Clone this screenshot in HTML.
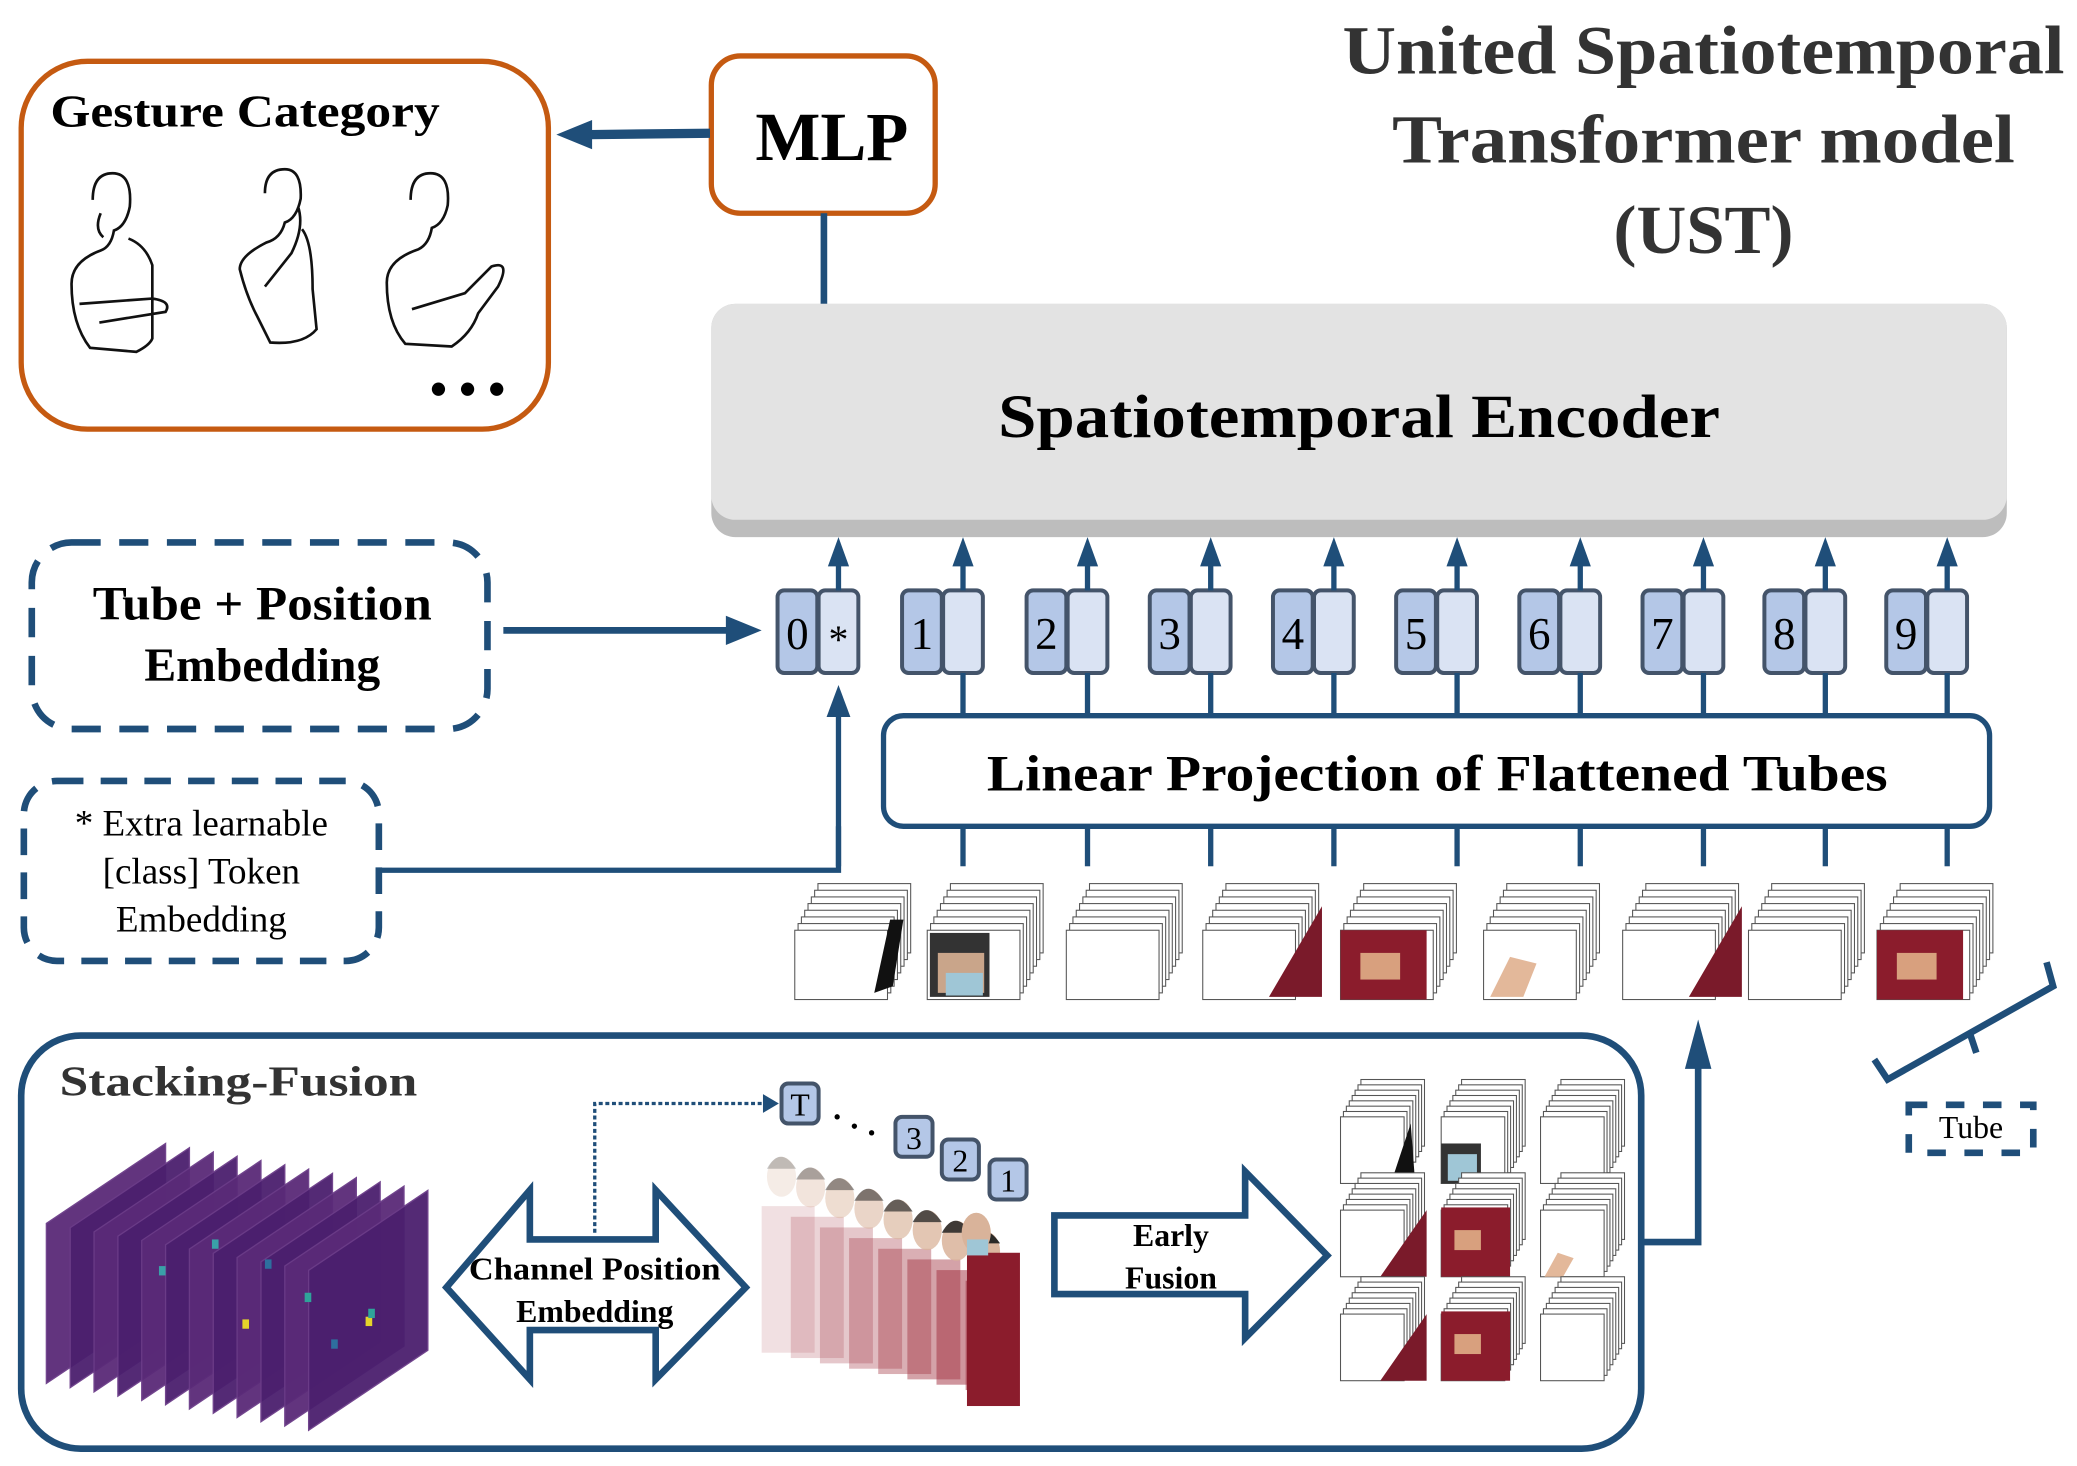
<!DOCTYPE html>
<html><head><meta charset="utf-8"><style>
html,body{margin:0;padding:0;background:#fff;overflow:hidden;}
svg{display:block;}
text{font-family:"Liberation Serif",serif;}
</style></head><body>
<svg id="s" width="2077" height="1466" viewBox="0 0 1568 1100" preserveAspectRatio="none" xmlns="http://www.w3.org/2000/svg">
<!-- Title -->
<g font-weight="bold" fill="#333" font-size="52" text-anchor="middle">
<text x="1286" y="55" textLength="545" lengthAdjust="spacingAndGlyphs">United Spatiotemporal</text>
<text x="1286" y="122" textLength="470" lengthAdjust="spacingAndGlyphs">Transformer model</text>
<text x="1286" y="190">(UST)</text>
</g>
<!-- Gesture box -->
<rect x="16" y="46" width="398" height="276" rx="50" fill="#fff" stroke="#C55A11" stroke-width="4"/>
<text x="38" y="95" font-size="34" font-weight="bold" textLength="294" lengthAdjust="spacingAndGlyphs">Gesture Category</text>
<g fill="none" stroke="#111" stroke-width="2">
<path d="M70,150 q0,-20 15,-20 q15,0 13,25 q-3,15 -12,18 q-2,12 -10,15 q-22,8 -22,25 q0,30 14,48 l35,3 q10,-5 12,-10 l0,-55 q-5,-15 -18,-20 M60,228 l55,-4 q15,2 10,10 l-50,8 M76,160 q-5,12 2,18"/>
<path d="M200,145 q0,-18 15,-18 q13,0 12,22 q-3,15 -12,18 q-3,12 -14,15 q-20,10 -20,20 q5,20 13,35 l10,20 q25,2 35,-10 l-3,-30 q0,-35 -8,-45 M200,215 l20,-25 q10,-20 5,-35"/>
<path d="M310,150 q0,-20 15,-20 q15,0 13,24 q-3,14 -12,17 q-2,12 -10,16 q-24,8 -24,25 q0,30 14,46 l35,2 q15,-10 20,-25 l15,-20 q10,-20 -5,-15 l-20,20 l-40,12"/>
</g>
<circle cx="331" cy="292" r="5" fill="#000"/><circle cx="353" cy="292" r="5" fill="#000"/><circle cx="375" cy="292" r="5" fill="#000"/>
<!-- MLP -->
<rect x="537" y="42" width="169" height="118" rx="22" fill="#fff" stroke="#C55A11" stroke-width="4"/>
<text x="628" y="120" font-size="52" font-weight="bold" text-anchor="middle">MLP</text>
<line x1="536" y1="100" x2="445" y2="101" stroke="#1F4E79" stroke-width="7"/>
<path d="M420,101 L447,90 L447,112 Z" fill="#1F4E79"/>
<line x1="622" y1="160" x2="622" y2="228" stroke="#1F4E79" stroke-width="5"/>
<!-- Encoder -->
<rect x="537" y="228" width="978" height="175" rx="18" fill="#bdbdbd"/>
<rect x="537" y="228" width="978" height="162" rx="18" fill="#e3e3e3"/>
<text x="1026" y="328" font-size="46" font-weight="bold" text-anchor="middle" textLength="545" lengthAdjust="spacingAndGlyphs">Spatiotemporal Encoder</text>
<g id="tokens"></g>
<!-- Tube+Position -->
<rect x="24" y="407" width="344" height="140" rx="30" fill="none" stroke="#1F4E79" stroke-width="5" stroke-dasharray="22,14"/>
<g font-size="36" font-weight="bold" text-anchor="middle"><text x="198" y="465" textLength="256" lengthAdjust="spacingAndGlyphs">Tube + Position</text><text x="198" y="511">Embedding</text></g>
<line x1="380" y1="473" x2="552" y2="473" stroke="#1F4E79" stroke-width="5"/>
<path d="M575,473 L548,462 L548,484 Z" fill="#1F4E79"/>
<!-- Extra -->
<rect x="18" y="586" width="268" height="135" rx="25" fill="none" stroke="#1F4E79" stroke-width="5" stroke-dasharray="20,13"/>
<g font-size="28" text-anchor="middle"><text x="152" y="627">* Extra learnable</text><text x="152" y="663">[class] Token</text><text x="152" y="699">Embedding</text></g>
<path d="M287,653 L633,653 L633,535" fill="none" stroke="#1F4E79" stroke-width="4"/>
<path d="M633,514 L624,538 L642,538 Z" fill="#1F4E79"/>
<!-- Linear projection -->
<rect x="667" y="537" width="835" height="83" rx="15" fill="#fff" stroke="#1F4E79" stroke-width="4"/>
<text x="1085" y="593" font-size="38" font-weight="bold" text-anchor="middle" textLength="680" lengthAdjust="spacingAndGlyphs">Linear Projection of Flattened Tubes</text>
<g id="stacks"></g>
<!-- Tube bracket -->
<path d="M1415,795 L1425,810 L1550,740 L1545,722" fill="none" stroke="#1F4E79" stroke-width="5"/>
<line x1="1487" y1="775" x2="1492" y2="790" stroke="#1F4E79" stroke-width="5"/>
<rect x="1441" y="829" width="94" height="36" fill="none" stroke="#1F4E79" stroke-width="5" stroke-dasharray="14,14"/>
<text x="1488" y="854" font-size="24" text-anchor="middle">Tube</text>
<!-- Stacking fusion -->
<rect x="16" y="777" width="1223" height="310" rx="45" fill="none" stroke="#1F4E79" stroke-width="5"/>
<text x="45" y="822" font-size="32" font-weight="bold" fill="#333" textLength="270" lengthAdjust="spacingAndGlyphs">Stacking-Fusion</text>
<g id="heat"></g>
<!-- double arrow -->
<path d="M337,966 L400,893 L400,930 L495,930 L495,893 L563,966 L495,1035 L495,998 L400,998 L400,1035 Z" fill="#fff" stroke="#1F4E79" stroke-width="5"/>
<g font-size="24" font-weight="bold" text-anchor="middle"><text x="449" y="960" textLength="190" lengthAdjust="spacingAndGlyphs">Channel Position</text><text x="449" y="992">Embedding</text></g>
<path d="M449,925 L449,828 L580,828" fill="none" stroke="#1F4E79" stroke-width="2.5" stroke-dasharray="3,2"/>
<path d="M588,828 L576,821 L576,835 Z" fill="#1F4E79"/>
<g id="people"></g>
<g stroke="#44546a" stroke-width="3">
<rect x="590" y="813" width="28" height="30" rx="5" fill="#b4c7e7"/>
<rect x="676" y="838" width="28" height="30" rx="5" fill="#b4c7e7"/>
<rect x="711" y="855" width="28" height="30" rx="5" fill="#b4c7e7"/>
<rect x="747" y="870" width="28" height="30" rx="5" fill="#b4c7e7"/>
</g>
<g font-size="24" text-anchor="middle"><text x="604" y="837">T</text><text x="690" y="862">3</text><text x="725" y="879">2</text><text x="761" y="894">1</text></g>
<circle cx="632" cy="838" r="2" fill="#000"/><circle cx="645" cy="845" r="2" fill="#000"/><circle cx="658" cy="850" r="2" fill="#000"/>
<!-- early fusion arrow -->
<path d="M796,912 L940,912 L940,879 L1002,942 L940,1004 L940,971 L796,971 Z" fill="#fff" stroke="#1F4E79" stroke-width="5"/>
<g font-size="24" font-weight="bold" text-anchor="middle"><text x="884" y="935">Early</text><text x="884" y="967">Fusion</text></g>
<g id="grid"></g>
<path d="M1240,932 L1282,932 L1282,795" fill="none" stroke="#1F4E79" stroke-width="5"/>
<path d="M1282,765 L1272,802 L1292,802 Z" fill="#1F4E79"/>
</svg>
<script>
var NS="http://www.w3.org/2000/svg";
function el(p,t,a,txt){var e=document.createElementNS(NS,t);for(var k in a)e.setAttribute(k,a[k]);if(txt!==undefined)e.textContent=txt;p.appendChild(e);return e;}
var T=document.getElementById('tokens');
var xs=[587,681,775,868,961,1054,1147,1240,1332,1424];
xs.forEach(function(x,i){
 el(T,'rect',{x:x,y:443,width:30,height:62,rx:5,fill:'#b4c7e7',stroke:'#44546a','stroke-width':3});
 el(T,'rect',{x:x+31,y:443,width:30,height:62,rx:5,fill:'#dae3f3',stroke:'#44546a','stroke-width':3});
 el(T,'text',{x:x+15,y:487,'font-size':34,'text-anchor':'middle'},String(i));
 if(i==0)el(T,'text',{x:x+46,y:490,'font-size':30,'text-anchor':'middle'},'*');
 var cx=x+46;
 el(T,'line',{x1:cx,y1:443,x2:cx,y2:420,stroke:'#1F4E79','stroke-width':4});
 el(T,'path',{d:'M'+cx+',403 L'+(cx-8)+',425 L'+(cx+8)+',425 Z',fill:'#1F4E79'});
 if(i>0){el(T,'line',{x1:cx,y1:505,x2:cx,y2:537,stroke:'#1F4E79','stroke-width':4});}
 el(T,'line',{x1:cx,y1:620,x2:cx,y2:650,stroke:'#1F4E79','stroke-width':4});
});
var S=document.getElementById('stacks');
function stack(g,x,y,w,h,n,dx,dy){
 for(var i=n-1;i>=0;i--){
  el(g,'rect',{x:x+i*dx,y:y-i*dy,width:w,height:h,fill:'#fff',stroke:'#555','stroke-width':0.8});
 }
}
var sx=[600,700,805,908,1012,1120,1225,1320,1417];
var sk=['f1','f','w','m','M','h','m','w','M'];
sx.forEach(function(x,i){
 var g=el(S,'g',{});
 stack(g,x,698,70,52,8,2.5,5);
 var k=sk[i];
 if(k=='f1'){el(g,'path',{d:'M'+(x+60)+',745 l12,-55 l10,0 l-8,50 Z',fill:'#111'});}
 if(k=='f'){el(g,'rect',{x:x+2,y:700,width:45,height:48,fill:'#333'});el(g,'rect',{x:x+8,y:715,width:35,height:30,fill:'#c9a58a'});el(g,'rect',{x:x+14,y:730,width:28,height:17,fill:'#9fc6d6'});}
 if(k=='m'){el(g,'path',{d:'M'+(x+50)+',748 L'+(x+90)+',680 L'+(x+90)+',748 Z',fill:'#7a1a2a'});}
 if(k=='M'){el(g,'rect',{x:x,y:698,width:65,height:52,fill:'#8b1c2c'});el(g,'rect',{x:x+15,y:715,width:30,height:20,fill:'#d8a07e'});}
 if(k=='h'){el(g,'path',{d:'M'+(x+5)+',748 l15,-30 l20,5 l-10,25 Z',fill:'#e3b89a'});}
});
var H=document.getElementById('heat');
for(var i=0;i<12;i++){
 var ox=35+i*18, oy=918+i*3.2;
 el(H,'path',{d:'M'+ox+','+oy+' L'+(ox+90)+','+(oy-60)+' L'+(ox+90)+','+(oy+60)+' L'+ox+','+(oy+120)+' Z',fill:i%2?'#4b1f6e':'#5a2a78',stroke:'#6b3c88','stroke-width':1,opacity:0.95});
}
[[183,990,'#e5d52a'],[276,988,'#e5d52a'],[278,982,'#2fa39a'],[120,950,'#3aa0a8'],[200,945,'#2e6f9e'],[160,930,'#3aa0a8'],[250,1005,'#2e6f9e'],[230,970,'#2fa39a']].forEach(function(p){el(H,'rect',{x:p[0],y:p[1],width:5,height:7,fill:p[2]});});
var P=document.getElementById('people');
for(var i=0;i<8;i++){
 var x=575+i*22, y=865+i*8, op=0.25+i*0.1;
 el(P,'rect',{x:x,y:y+40,width:40,height:110-i*4,fill:'#a0303f',opacity:op*0.6});
 el(P,'ellipse',{cx:x+15,cy:y+18,rx:11,ry:15,fill:'#d9b39a',opacity:op});
 el(P,'path',{d:'M'+(x+4)+','+(y+12)+' q10,-18 22,0 Z',fill:'#222',opacity:op});
}
el(P,'rect',{x:730,y:940,width:40,height:115,fill:'#8b1c2c'});
el(P,'ellipse',{cx:737,cy:925,rx:11,ry:15,fill:'#d9b39a'});
el(P,'rect',{x:730,y:930,width:16,height:12,fill:'#9fc6d6'});
var G=document.getElementById('grid');
var gx=[1012,1088,1163], gy=[888,958,1036];
var gk=[['f1','f','w'],['m','M','h'],['m','M','w']];
gx.forEach(function(x,ci){gy.forEach(function(y,ri){
 var g=el(G,'g',{});
 stack(g,x,y-50,48,50,8,2.2,4);
 var k=gk[ri][ci];
 if(k=='f1'){el(g,'path',{d:'M'+(x+38)+','+(y)+' l15,-45 l3,40 Z',fill:'#111'});}
 if(k=='f'){el(g,'rect',{x:x,y:y-30,width:30,height:30,fill:'#333'});el(g,'rect',{x:x+5,y:y-22,width:22,height:20,fill:'#9fc6d6'});}
 if(k=='m'){el(g,'path',{d:'M'+(x+30)+','+y+' L'+(x+65)+','+(y-50)+' L'+(x+65)+','+y+' Z',fill:'#7a1a2a'});}
 if(k=='M'){el(g,'rect',{x:x,y:y-52,width:52,height:52,fill:'#8b1c2c'});el(g,'rect',{x:x+10,y:y-35,width:20,height:15,fill:'#d8a07e'});}
 if(k=='h'){el(g,'path',{d:'M'+(x+3)+','+y+' l10,-18 l12,4 l-8,14 Z',fill:'#e3b89a'});}
});});
</script>
</body></html>
